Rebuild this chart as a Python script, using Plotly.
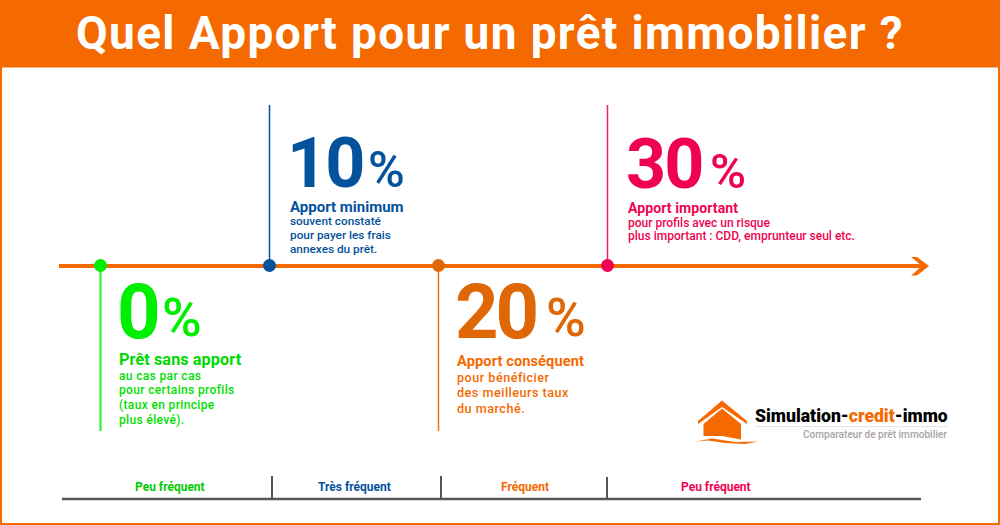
import plotly.graph_objects as go

W, H = 1000, 525
PX_PER_PCT = 16.9
X0 = 100.5

# Data
apport_pct = [0, 10, 20, 30]
apport_labels = ["0", "10", "20", "30"]
headings = ["Prêt sans apport", "Apport minimum", "Apport conséquent", "Apport important"]
details = [
    ["au cas par cas", "pour certains profils", "(taux en principe", "plus élevé)."],
    ["souvent constaté", "pour payer les frais", "annexes du prêt."],
    ["pour bénéficier", "des meilleurs taux", "du marché."],
    ["pour profils avec un risque", "plus important : CDD, emprunteur seul etc."],
]
frequencies = ["Peu fréquent", "Très fréquent", "Fréquent", "Peu fréquent"]
title = "Quel Apport pour un prêt immobilier ?"

# Styles
ORANGE = "#f56a00"
dot_colors = ["#00ee00", "#04529c", "#df6706", "#ef0350"]
stem_colors = ["#22ee22", "#04529c", "#ee7010", "#ef2060"]
num_colors = ["#00ee00", "#04529c", "#df6706", "#ef0350"]
head_colors = ["#00d800", "#04529c", "#f56a00", "#ef0350"]
text_colors = ["#00e000", "#04529c", "#f56a00", "#ef0350"]
freq_colors = ["#00cc00", "#04529c", "#f56a00", "#ef0350"]
stem_y = [(266, 431), (105, 266), (266, 431), (105, 266)]
num_pos = [(116, 312, 76), (286, 163, 70), (454, 312, 76), (625, 164, 70)]
num_ls = [0, -2, -3, -2]
pct_pos = [(161, 317, 54), (367, 170, 50), (545, 317, 54), (709, 171, 49)]
head_pos = [(118, 359.5), (289, 207), (456, 360.5), (627, 208)]
head_size = [16.2, 15, 14.6, 14]
head_ls = [0.1, 0, 0.1, 0.1]
line_start = [375.5, 221, 377, 222.5]
line_step = [14.7, 14, 15.6, 13.5]
line_size = [12, 11.8, 12.6, 12]
line_ls = [0.35, 0, 0.5, 0]
freq_x = [170, 354.5, 524.5, 716]

def xp(px):
    return (px - X0) / PX_PER_PCT

fig = go.Figure()

def seg(x0, y0, x1, y1, color, width, layer="above"):
    fig.add_shape(type="line", xref="paper", yref="paper", layer=layer,
                  x0=x0 / W, x1=x1 / W, y0=1 - y0 / H, y1=1 - y1 / H,
                  line=dict(color=color, width=width))

def text(x, y, s, size, color, weight=500, anchor="left", ls=0):
    if ls:
        s = '<span style="letter-spacing:%spx">%s</span>' % (ls, s)
    fig.add_annotation(xref="paper", yref="paper", x=x / W, y=1 - y / H, text=s,
                       showarrow=False, xanchor=anchor, yanchor="middle",
                       borderpad=0,
                       font=dict(family="Roboto", size=size, color=color, weight=weight))

# Frame and header
fig.add_shape(type="rect", xref="paper", yref="paper", x0=0.001, x1=0.999, y0=0.002, y1=1,
              line=dict(color=ORANGE, width=2), fillcolor="white", layer="below")
fig.add_shape(type="rect", xref="paper", yref="paper", x0=0, x1=1, y0=1 - 67.5 / H, y1=1,
              line=dict(width=0), fillcolor=ORANGE, layer="below")
text(490, 33, title, 46, "white", 700, "center", 1.35)

# Timeline
seg(59, 266, 925, 266, ORANGE, 4, layer="below")
fig.add_shape(type="path", xref="paper", yref="paper",
              path="M %f,%f L %f,%f L %f,%f L %f,%f L %f,%f L %f,%f Z" % (
                  911/W, 1-257/H, 917/W, 1-257/H, 929/W, 1-266/H,
                  917/W, 1-275.5/H, 911/W, 1-275.5/H, 922/W, 1-266/H),
              line=dict(width=0), fillcolor=ORANGE)

# Milestones
for i, p in enumerate(apport_pct):
    fig.add_trace(go.Scatter(x=[p, p], y=list(stem_y[i]), mode="lines",
                             line=dict(color=stem_colors[i], width=2 if i == 0 else 1.5),
                             hoverinfo="skip", showlegend=False))
fig.add_trace(go.Scatter(x=apport_pct, y=[265.5] * 4, mode="markers",
                         marker=dict(size=13, color=dot_colors, line=dict(width=0)),
                         hoverinfo="skip", showlegend=False))

for i in range(4):
    x, y, s = num_pos[i]
    text(x, y, apport_labels[i], s, num_colors[i], 700, ls=num_ls[i])
    x, y, s = pct_pos[i]
    text(x, y, "%", s, num_colors[i], 500)
    x, y = head_pos[i]
    text(x, y, headings[i], head_size[i], head_colors[i], 700, ls=head_ls[i])
    for j, line in enumerate(details[i]):
        text(x, line_start[i] + j * line_step[i], line, line_size[i], text_colors[i], 500, ls=line_ls[i])

# Frequency bar
seg(62, 499, 921, 499, "#555555", 2.5)
for x, y0 in [(272, 476), (441, 476), (607, 477)]:
    seg(x, y0, x, 498, "#555555", 2)
for x, label, c in zip(freq_x, frequencies, freq_colors):
    text(x, 487, label, 12, c, 700, "center")

# Logo
def pth(pts):
    return "M " + " L ".join("%f,%f" % (a / W, 1 - b / H) for a, b in pts) + " Z"

fig.add_shape(type="path", xref="paper", yref="paper", line=dict(width=0), fillcolor=ORANGE,
              path=pth([(698, 421), (722, 400.5), (747, 421), (747, 424), (722, 407), (698, 424)]))
fig.add_shape(type="path", xref="paper", yref="paper", line=dict(width=0), fillcolor=ORANGE,
              path=pth([(703.5, 424), (722, 408.5), (741, 424), (741, 439.5), (722, 436), (703.5, 436)]))
fig.add_shape(type="path", xref="paper", yref="paper", line=dict(width=0), fillcolor=ORANGE,
              path=pth([(696, 441.5), (712, 438.5), (735, 442), (758, 441.5), (745, 444), (725, 443), (708, 440.5)]))
seg(755, 426.5, 947, 426.5, "#e4e4e4", 1)
text(754, 416, '<span style="color:#000000">Simulation-</span><span style="color:#f56a00">credit</span><span style="color:#000000">-immo</span>', 17.6, "#000000", 900)
text(947.5, 434.5, "Comparateur de prêt immobilier", 10.1, "#a8a4a4", 500, "right")

fig.update_layout(
    width=W, height=H, margin=dict(l=0, r=0, t=0, b=0),
    paper_bgcolor="white", plot_bgcolor="rgba(0,0,0,0)", showlegend=False,
    xaxis=dict(range=[xp(0), xp(W)], visible=False, fixedrange=True),
    yaxis=dict(range=[H, 0], visible=False, fixedrange=True),
)
fig.write_html("out.html", config=dict(displayModeBar=False),
               post_script="document.body.style.margin='0';document.documentElement.style.overflow='hidden';")
